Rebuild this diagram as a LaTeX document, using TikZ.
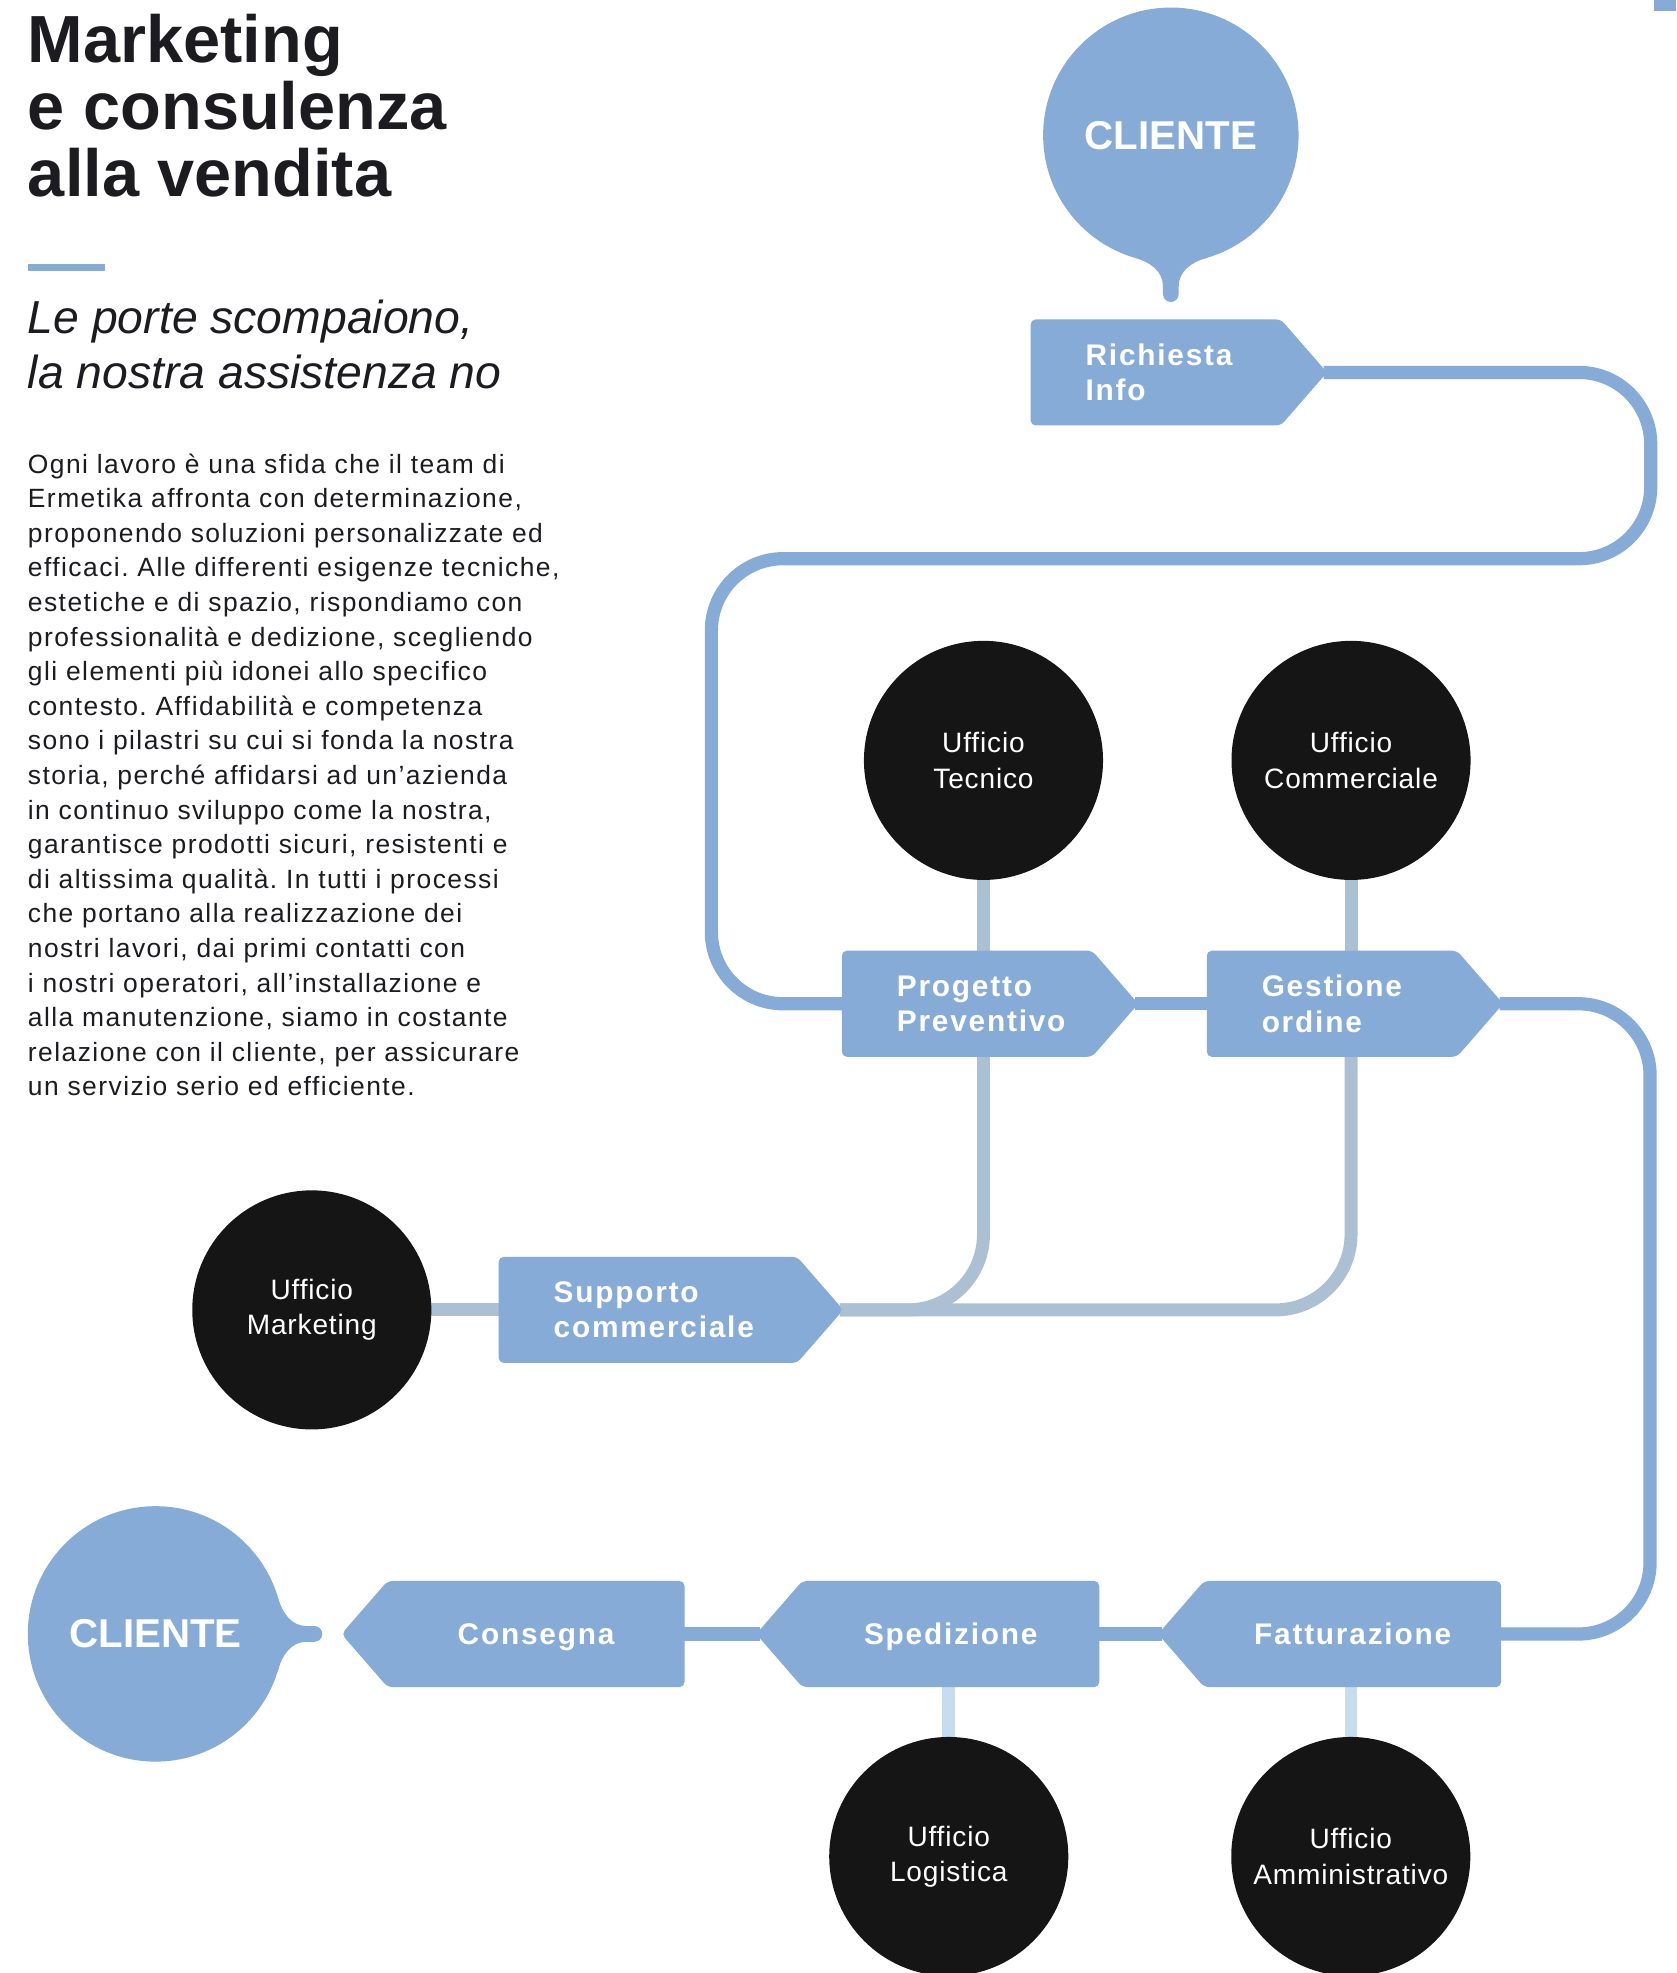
\documentclass[tikz,border=0pt]{standalone}
\usepackage{fontspec}
\setmainfont{Liberation Sans}
\newfontfamily\boxfont[LetterSpace=6]{Liberation Sans}
\newfontfamily\officefont[LetterSpace=3]{Liberation Sans}
\newfontfamily\bodyfont[LetterSpace=5.5]{Liberation Sans}
\usetikzlibrary{shapes.symbols,backgrounds}
\frenchspacing

\definecolor{flowblue}{HTML}{86ABD6}
\definecolor{linkgray}{HTML}{ABC1D3}
\definecolor{linklight}{HTML}{C6DDF0}
\definecolor{officeblack}{HTML}{151515}
\definecolor{ink}{HTML}{1C1B1F}

\begin{document}
\begin{tikzpicture}[x=1pt,y=1pt,node distance=290pt,
    tagright/.style={signal,signal to=east,signal pointer angle=98,fill=flowblue,
      rounded corners=4pt,minimum height=84.3pt,inner ysep=0pt,inner xsep=43.7pt,
      text width=111.5pt,align=left,text=white,
      font=\boxfont\bfseries\fontsize{23.7pt}{28pt}\selectfont},
    tagleft/.style={signal,signal to=west,signal pointer angle=98,fill=flowblue,
      rounded corners=4pt,minimum height=84.3pt,inner ysep=0pt,inner xsep=10pt,
      text width=216pt,align=center,text=white,text height=17pt,text depth=0pt,
      font=\boxfont\bfseries\fontsize{23.7pt}{28pt}\selectfont},
    office/.style={circle,fill=officeblack,minimum size=190pt,inner sep=0pt,
      align=center,text=white,font=\officefont\fontsize{22.3pt}{28pt}\selectfont},
    client/.style={circle,fill=flowblue,minimum size=203pt,inner sep=0pt,
      text=white,font=\bfseries\fontsize{32pt}{32pt}\selectfont},
    bluelink/.style={draw=flowblue,line width=10.5pt,shorten <=-3pt,shorten >=-3pt},
    graylink/.style={draw=linkgray,line width=10.3pt,shorten <=-3pt,shorten >=-3pt},
    lightlink/.style={draw=linklight,line width=10pt,shorten <=-3pt,shorten >=-3pt},
    tail/.pic={\fill[flowblue] (-28.2,-97.5) .. controls (-16.7,-100.8) and (-6.25,-108) .. (-6.25,-120)
      -- (-6.25,-126.25) arc[start angle=180,end angle=360,radius=6.25] -- (6.25,-120)
      .. controls (6.25,-108) and (16.7,-100.8) .. (28.2,-97.5) -- (0,-60) -- cycle;}]
  \useasboundingbox (0,0) rectangle (1332,-1568);

  % heading and text (base = last line)
  \node[anchor=base west,align=left,inner sep=0pt,text=ink,
    font=\bfseries\fontsize{53pt}{53.2pt}\selectfont] (t1) at (22,-156.3)
    {Marketing\\e consulenza\\alla vendita};
  \fill[flowblue] (22.5,-210) rectangle (83.8,-215.5);
  \node[anchor=base west,align=left,inner sep=0pt,text=ink,
    font=\itshape\fontsize{36.8pt}{43.2pt}\selectfont] (t2) at (22,-308.5)
    {Le porte scompaiono,\\la nostra assistenza no};
  \node[anchor=base west,align=left,inner sep=0pt,text=ink,
    font=\bodyfont\fontsize{21pt}{27.5pt}\selectfont] (t3) at (22,-871)
    {Ogni lavoro è una sfida che il team di\\
     Ermetika affronta con determinazione,\\
     proponendo soluzioni personalizzate ed\\
     efficaci. Alle differenti esigenze tecniche,\\
     estetiche e di spazio, rispondiamo con\\
     professionalità e dedizione, scegliendo\\
     gli elementi più idonei allo specifico\\
     contesto. Affidabilità e competenza\\
     sono i pilastri su cui si fonda la nostra\\
     storia, perché affidarsi ad un’azienda\\
     in continuo sviluppo come la nostra,\\
     garantisce prodotti sicuri, resistenti e\\
     di altissima qualità. In tutti i processi\\
     che portano alla realizzazione dei\\
     nostri lavori, dai primi contatti con\\
     i nostri operatori, all’installazione e\\
     alla manutenzione, siamo in costante\\
     relazione con il cliente, per assicurare\\
     un servizio serio ed efficiente.};
  \fill[flowblue] (1314.5,0) rectangle (1332,-8.5);

  % flow
  \node[client] (1) at (930.5,-107.5) {CLIENTE};
  \pic at (1.center) {tail};
  \node[tagright] (2) at (918.5,-296) {Richiesta\\Info};
  \node[office] (3) at (781.6,-604.3) {Ufficio\\Tecnico};
  \node[office,right of=3,xshift=2.1pt] (4) {Ufficio\\Commerciale};
  \node[tagright] (5) at (768.5,-797.7) {Progetto\\Preventivo};
  \node[tagright,right of=5] (6) {Gestione\\ordine};
  \node[office] (7) at (247.8,-1041) {Ufficio\\Marketing};
  \node[tagright,text width=149.8pt] (8) at (514.9,-1041) {Supporto\\commerciale};
  \node[tagleft] (9) at (1075,-1298.6) {Fatturazione};
  \node[tagleft,left of=9,xshift=-29.4pt] (10) {Spedizione};
  \node[tagleft,left of=10,xshift=-39.6pt] (11) {Consegna};
  \node[client] (12) at (123.6,-1298.5) {CLIENTE};
  \pic[rotate=90] at (12.center) {tail};
  \node[office] (13) at (754,-1475.4) {Ufficio\\Logistica};
  \node[office,right of=13,xshift=29.5pt] (14) {Ufficio\\Amministrativo};

  \begin{scope}[on background layer]
    \draw[bluelink,rounded corners=57pt] (2.east) -- ++(257,0) |- ++(-746.5,-148) |- (5.west);
    \draw[bluelink] (5.east) -- (6.west);
    \draw[bluelink,rounded corners=57pt] (6.east) -- ++(116.5,0) |- (9.east);
    \draw[bluelink] (9.west) -- (10.east);
    \draw[bluelink] (10.west) -- (11.east);
    \draw[graylink] (3.south) -- (3.south |- 5.north);
    \draw[graylink] (4.south) -- (4.south |- 6.north);
    \draw[graylink,rounded corners=60pt] (3.south |- 5.south) |- (8.east);
    \draw[graylink,rounded corners=60pt] (4.south |- 6.south) |- (8.east);
    \draw[graylink] (7.east) -- (8.west);
    \draw[lightlink] (13.north |- 10.south) -- (13.north);
    \draw[lightlink] (14.north |- 9.south) -- (14.north);
  \end{scope}
\end{tikzpicture}
\end{document}
